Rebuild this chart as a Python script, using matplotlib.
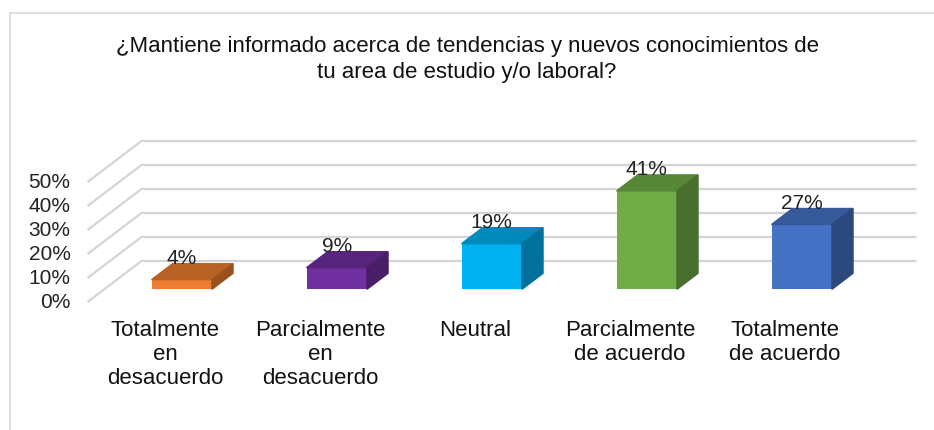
import numpy as np
import matplotlib.pyplot as plt
from matplotlib.patches import Polygon
from matplotlib.colors import to_rgb

plt.rcParams['font.family'] = ['Liberation Sans', 'DejaVu Sans']

# datos
categorias = ["Totalmente\nen\ndesacuerdo", "Parcialmente\nen\ndesacuerdo", "Neutral",
              "Parcialmente\nde acuerdo", "Totalmente\nde acuerdo"]
valores = [4, 9, 19, 41, 27]
colores = ["#ED7D31", "#7030A0", "#00B0F0", "#70AD47", "#4472C4"]
ticks_y = [0, 10, 20, 30, 40, 50]
titulo = "¿Mantiene informado acerca de tendencias y nuevos conocimientos de\ntu area de estudio y/o laboral?"

# escala: 155 px por categoria, 2.4 px por punto porcentual
W, H = 934, 430
px_cat, px_pct = 155.0, 2.4
x0_px, y0_px = 165.0, 302.0  # origen frontal (desde arriba)

# vector de profundidad en unidades de datos
Dx, Dy = 54 / px_cat, 41 / px_pct
d0, d1 = 0.31, 0.70  # profundidad de las barras (frente / fondo)
ancho = 0.39

fig = plt.figure(figsize=(W / 100, H / 100), dpi=100)
ax = fig.add_axes([0, 0, 1, 1])
ax.set_xlim(-x0_px / px_cat, (W - x0_px) / px_cat)
ax.set_ylim((y0_px - H) / px_pct, y0_px / px_pct)
ax.axis("off")

# marco del grafico
ax.plot([10 / W, 1], [1 - 13 / H, 1 - 13 / H], color="#D9D9D9", lw=1.2, transform=ax.transAxes)
ax.plot([10 / W, 10 / W], [0, 1 - 13 / H], color="#D9D9D9", lw=1.2, transform=ax.transAxes)

# rejilla (pared izquierda + pared del fondo)
x_izq, x_der = -0.5, len(valores) - 0.5
for t in ticks_y:
    ax.plot([x_izq, x_izq + Dx, x_der + Dx], [t, t + Dy, t + Dy], color="#D4D4D4", lw=1.6,
            solid_capstyle="butt", zorder=1)
    ax.text(x_izq - 0.11, t, f"{t}%", ha="right", va="center", fontsize=15, color="#222222")


def oscurecer(c, f):
    r, g, b = to_rgb(c)
    return (r * f, g * f, b * f)


# barras 3D
for i, (v, c) in enumerate(zip(valores, colores)):
    xf = i + d0 * Dx - ancho / 2
    yb = d0 * Dy
    dx, dy = (d1 - d0) * Dx, (d1 - d0) * Dy
    ax.bar(i + d0 * Dx, v, bottom=yb, width=ancho, color=c, zorder=3)
    top = [(xf, yb + v), (xf + ancho, yb + v), (xf + ancho + dx, yb + v + dy), (xf + dx, yb + v + dy)]
    ax.add_patch(Polygon(top, closed=True, color=oscurecer(c, 0.78), zorder=3))
    lado = [(xf + ancho, yb), (xf + ancho + dx, yb + dy), (xf + ancho + dx, yb + v + dy), (xf + ancho, yb + v)]
    ax.add_patch(Polygon(lado, closed=True, color=oscurecer(c, 0.64), zorder=3))
    ax.text(i + d0 * Dx, v + d1 * Dy + 2.2, f"{v}%", ha="center", va="center",
            fontsize=15, color="#222222", zorder=4)

# etiquetas de categorias
for i, cat in enumerate(categorias):
    ax.text(i, -7.5, cat, ha="center", va="top", fontsize=16, linespacing=1.2, color="#111111")

fig.text(0.5, 1 - 36 / H, titulo, ha="center", va="top", fontsize=16, linespacing=1.3,
         color="#111111")

fig.savefig("out.png", dpi=100)
